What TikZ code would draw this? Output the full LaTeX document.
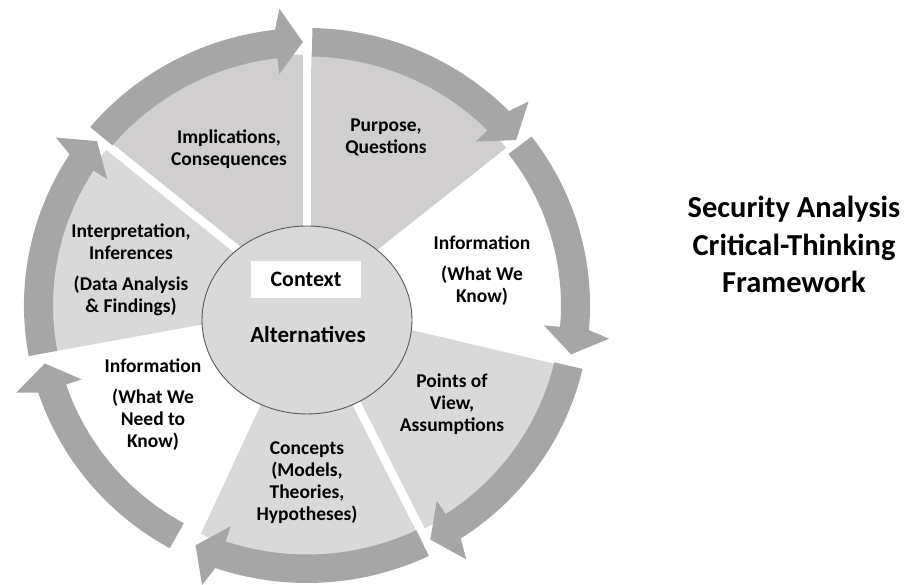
\documentclass[tikz,border=0pt]{standalone}
\usepackage{fontspec}
\setmainfont{Carlito}
\usetikzlibrary{shapes.geometric}

\definecolor{bandgrey}{HTML}{A6A6A6}
\definecolor{fillwarm}{HTML}{D0CECE}
\definecolor{filllight}{HTML}{D9D9D9}
\definecolor{rimgrey}{HTML}{595959}

% band with arrow head: #1 = start angle, #2 = tip angle (clockwise)
\newcommand\wheelseg[2]{%
  \pgfmathsetmacro\segh{#2+5.6}%
  \pgfmathsetmacro\segb{#2+4.3}%
  \pgfmathsetmacro\segi{#2+5.8}%
  \fill[bandgrey] (#1:277.5) arc[start angle=#1, end angle=\segh, radius=277.5]
    -- (\segb:298) -- (#2:263.5) -- (\segi:233) -- (\segi:249)
    arc[start angle=\segi, end angle=#1, radius=249] -- cycle;}

% shaded wedge under a band: #1 = colour, #2 = start angle, #3 = tip angle
\newcommand\wheelfill[3]{%
  \fill[#1] (0,0) -- (#2:251) arc[start angle=#2, end angle=#3, radius=251]
    -- (#3:263.5) -- cycle;}

\tikzset{
  seglabel/.style={align=center, font=\fontsize{19.5pt}{22pt}\selectfont\bfseries, inner sep=0pt},
  gap/.style={white, line width=8.5pt},
}

\begin{document}
\begin{tikzpicture}[x=1pt,y=1pt]
\useasboundingbox (0,0) rectangle (906,585);

\begin{scope}[shift={(307,279.5)}, xscale=1.02]
  % wedges
  \wheelfill{fillwarm}{141}{90.9}
  \wheelfill{fillwarm}{89}{38.9}
  \wheelfill{filllight}{-13.5}{-62.7}
  \wheelfill{filllight}{-64.5}{-114.5}
  \wheelfill{filllight}{190.5}{141.4}
  % white gaps between neighbouring wedges
  \draw[gap] (0,0) -- (140.7:300);
  \draw[gap] (0,0) -- (90:300);
  \draw[gap] (0,0) -- (-63.6:300);
  % arrow bands, clockwise
  \wheelseg{140}{90.9}
  \wheelseg{88.9}{38.9}
  \wheelseg{37.5}{-10.7}
  \wheelseg{-13.2}{-62.7}
  \wheelseg{-64.5}{-114.5}
  \wheelseg{-119}{-167.3}
  \wheelseg{190.5}{141.4}
\end{scope}

% hub
\node (hub) [ellipse, draw=rimgrey, line width=0.9pt, fill=filllight,
  minimum width=210pt, minimum height=188pt, inner sep=0pt] at (307,265) {};
\node (ctxbox) [fill=white, minimum width=110pt, minimum height=37pt, inner sep=0pt] at (306,305.5) {};
\node (ctx) [font=\fontsize{22pt}{26pt}\selectfont\bfseries, inner sep=0pt] at (ctxbox.center) {Context};
\node (alt) [font=\fontsize{23pt}{26pt}\selectfont\bfseries, inner sep=0pt] at (308,250) {Alternatives};

% segment labels
\node (impl) [seglabel] at (229,436) {Implications,\\Consequences};
\node (purp) [seglabel] at (386,447.5) {Purpose,\\Questions};
\node (infok) [seglabel] at (482,314.5) {Information\\[9pt](What We\\Know)};
\node (pov) [seglabel] at (452,180.5) {Points of\\View,\\Assumptions};
\node (conc) [seglabel] at (307,102.5) {Concepts\\(Models,\\Theories,\\Hypotheses)};
\node (infon) [seglabel] at (153,180) {Information\\[9pt](What We\\Need to\\Know)};
\node (interp) [seglabel] at (131,315.5) {Interpretation,\\Inferences\\[9pt](Data Analysis\\\& Findings)};

% title
\node (title) [align=center, font=\fontsize{30.5pt}{37.5pt}\selectfont\bfseries, inner sep=0pt]
  at (794,340.5) {Security Analysis\\Critical-Thinking\\Framework};
\end{tikzpicture}
\end{document}
